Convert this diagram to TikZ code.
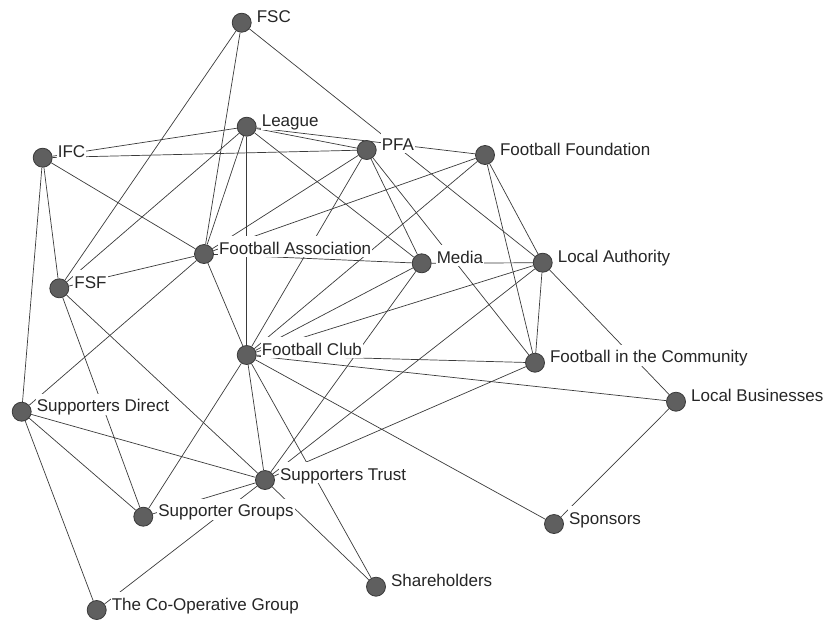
\documentclass[tikz,border=0pt]{standalone}
\usepackage{fontspec}
\setmainfont{Liberation Sans}
\usetikzlibrary{backgrounds}
\definecolor{tiegrey}{HTML}{3A3A3A}
\definecolor{actorgrey}{HTML}{5F5F5F}

\begin{document}
\begin{tikzpicture}[
  x=1pt, y=-1pt,
  label distance=4pt,
  actor/.style={circle, draw=tiegrey, fill=actorgrey, line width=0.8pt, minimum size=19pt, inner sep=0pt},
  tag/.style={anchor=base west, fill=white, inner xsep=1pt, inner ysep=2pt, text height=16pt, text depth=1pt, text=black!85, font=\fontsize{17}{20}\selectfont},
  tie/.style={draw=tiegrey, line width=0.7pt}
]
\useasboundingbox (0,0) rectangle (827,619);
\node[actor, label={[tag]0:FSC}] (fsc) at (241.7,22.7) {};
\node[actor, label={[tag]0:League}] (league) at (246.7,126.7) {};
\node[actor, label={[tag]0:PFA}] (pfa) at (366.7,150) {};
\node[actor, label={[tag]0:IFC}] (ifc) at (42.7,157.7) {};
\node[actor, label={[tag]0:Football Foundation}] (ff) at (485,155) {};
\node[actor, label={[tag]0:Football Association}] (fa) at (204,254) {};
\node[actor, label={[tag]0:Media}] (media) at (421.7,263.3) {};
\node[actor, label={[tag]0:Local Authority}] (la) at (542.7,262.7) {};
\node[actor, label={[tag]0:FSF}] (fsf) at (59.3,288.3) {};
\node[actor, label={[tag]0:Football Club}] (fc) at (246.7,355) {};
\node[actor, label={[tag]0:Football in the Community}] (fitc) at (535,362.7) {};
\node[actor, label={[tag]0:Local Businesses}] (lb) at (676,401.7) {};
\node[actor, label={[tag]0:Supporters Direct}] (sd) at (21.7,411.7) {};
\node[actor, label={[tag]0:Supporters Trust}] (st) at (265,480) {};
\node[actor, label={[tag]0:Supporter Groups}] (sg) at (143.3,516.7) {};
\node[actor, label={[tag]0:Sponsors}] (sp) at (554,524) {};
\node[actor, label={[tag]0:Shareholders}] (sh) at (376,586.7) {};
\node[actor, label={[tag]0:The Co-Operative Group}] (cog) at (96.7,610) {};
\begin{scope}[on background layer]
\draw[tie] (fsc) -- (fsf);
\draw[tie] (fsc) -- (fa);
\draw[tie] (fsc) -- (la);
\draw[tie] (league) -- (ifc);
\draw[tie] (league) -- (pfa);
\draw[tie] (league) -- (ff);
\draw[tie] (league) -- (fa);
\draw[tie] (league) -- (fsf);
\draw[tie] (league) -- (fc);
\draw[tie] (league) -- (media);
\draw[tie] (ifc) -- (pfa);
\draw[tie] (ifc) -- (fa);
\draw[tie] (ifc) -- (fsf);
\draw[tie] (ifc) -- (sd);
\draw[tie] (pfa) -- (fa);
\draw[tie] (pfa) -- (fc);
\draw[tie] (pfa) -- (media);
\draw[tie] (pfa) -- (fitc);
\draw[tie] (ff) -- (fa);
\draw[tie] (ff) -- (fc);
\draw[tie] (ff) -- (la);
\draw[tie] (ff) -- (fitc);
\draw[tie] (fa) -- (fsf);
\draw[tie] (fa) -- (media);
\draw[tie] (fa) -- (fc);
\draw[tie] (fa) -- (sd);
\draw[tie] (media) -- (fc);
\draw[tie] (media) -- (la);
\draw[tie] (media) -- (st);
\draw[tie] (la) -- (fitc);
\draw[tie] (la) -- (lb);
\draw[tie] (la) -- (fc);
\draw[tie] (la) -- (st);
\draw[tie] (fitc) -- (fc);
\draw[tie] (fitc) -- (st);
\draw[tie] (lb) -- (fc);
\draw[tie] (lb) -- (sp);
\draw[tie] (sp) -- (fc);
\draw[tie] (fc) -- (sh);
\draw[tie] (fc) -- (st);
\draw[tie] (fc) -- (sg);
\draw[tie] (st) -- (sd);
\draw[tie] (st) -- (fsf);
\draw[tie] (st) -- (sg);
\draw[tie] (st) -- (cog);
\draw[tie] (st) -- (sh);
\draw[tie] (sd) -- (sg);
\draw[tie] (sd) -- (cog);
\draw[tie] (fsf) -- (sg);
\end{scope}
\end{tikzpicture}
\end{document}
